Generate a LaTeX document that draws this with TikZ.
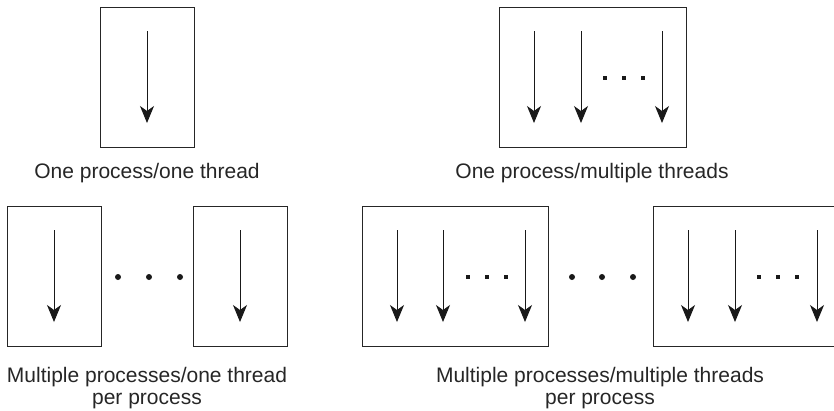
\documentclass[tikz,border=0pt]{standalone}
\usepackage{fontspec}
\setmainfont{Liberation Sans}
\usetikzlibrary{arrows.meta}
\begin{document}
\begin{tikzpicture}[x=1pt,y=-1pt,
  proc/.style={draw=black!85, line width=1.2pt, minimum width=#1, minimum height=140pt, inner sep=0pt, anchor=north west},
  thr/.style={draw=black!90, line width=1pt, -{Stealth[length=17pt,width=14pt,inset=5pt]}},
  sdot/.style={fill=black!90, rectangle, minimum size=3.3pt, inner sep=0pt},
  bdot/.style={fill=black!90, circle, minimum size=6pt, inner sep=0pt},
  lbl/.style={font=\fontsize{21}{22}\selectfont, align=center, anchor=base, inner sep=0pt, text=black!85}]
\useasboundingbox (0,0) rectangle (834,410);

% process boxes
\node[proc=94pt]  (b1) at (100,7) {};
\node[proc=187pt] (b2) at (499,7) {};
\node[proc=94pt]  (b3) at (7,206) {};
\node[proc=94pt]  (b4) at (193,206) {};
\node[proc=186pt] (b5) at (362,206) {};
\node[proc=187pt] (b6) at (653,206) {};

% threads
\foreach \b/\xs in {b1/47, b3/47, b4/47, b2/35, b2/82, b2/163, b5/35, b5/81, b5/163, b6/35, b6/82, b6/164}{
  \coordinate (s-\b-\xs) at ([xshift=\xs pt, yshift=-24pt]\b.north west);
  \coordinate (e-\b-\xs) at ([xshift=\xs pt, yshift=-116pt]\b.north west);
  \draw[thr] (s-\b-\xs) -- (e-\b-\xs);
}

% small dots inside multi-thread boxes
\foreach \b in {b2,b5,b6}{
  \foreach \xs in {106,125,144}{
    \node[sdot] (d-\b-\xs) at ([xshift=\xs pt, yshift=-71pt]\b.north west) {};
  }
}

% big dots between processes
\foreach \x/\n in {118/1,149/2,180/3}{ \node[bdot] (p\n) at (\x,277) {}; }
\foreach \x/\n in {572/1,602/2,633/3}{ \node[bdot] (q\n) at (\x,277) {}; }

% labels
\node[lbl] (l1) at (147,178) {One process/one thread};
\node[lbl] (l2) at (592,178) {One process/multiple threads};
\node[lbl] (l3) at (147,404) {Multiple processes/one thread\\per process};
\node[lbl] (l4) at (600,404) {Multiple processes/multiple threads\\per process};
\end{tikzpicture}
\end{document}
